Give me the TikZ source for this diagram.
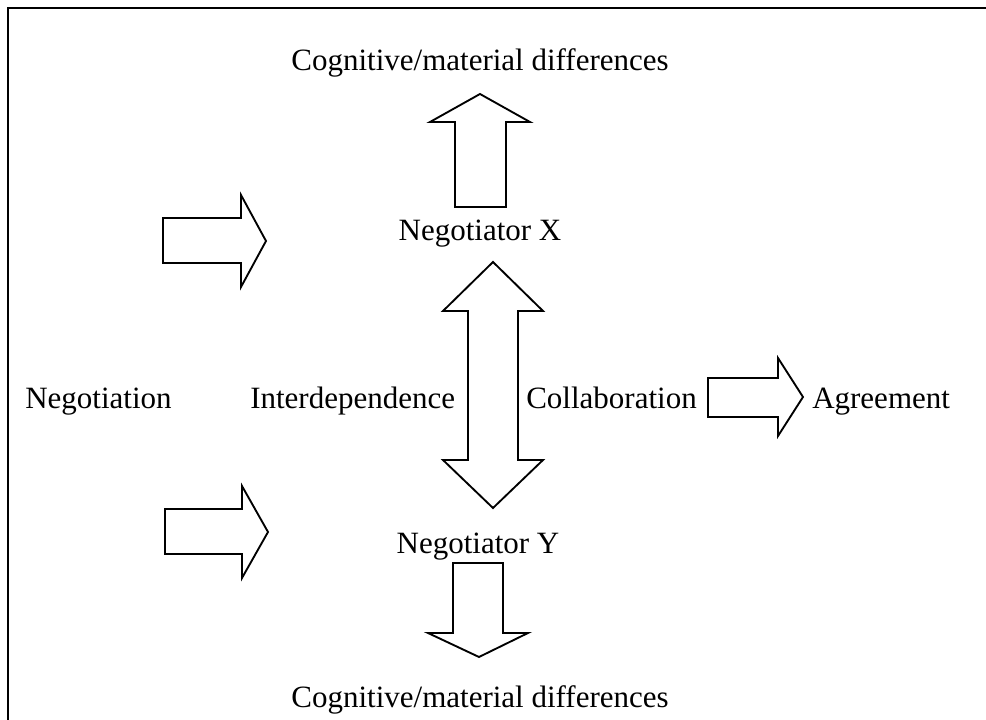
\documentclass[tikz,border=0pt]{standalone}
\usepackage{fontspec}
\setmainfont{Liberation Serif}
\usetikzlibrary{positioning}

\begin{document}
\begin{tikzpicture}[x=0.75pt, y=-0.75pt,
        lbl/.style={inner sep=0pt, font=\fontsize{23.25}{28}\selectfont},
        blockarrow/.style={draw, line width=1.4pt, line join=miter, fill=white},
        frameline/.style={draw, line width=1.5pt}]

        \useasboundingbox (0,0) rectangle (986,720);
        \draw[frameline] (8,720) -- (8,8) -- (986,8);

        % labels
        \node[lbl, anchor=base] (diffTop) at (480,71) {Cognitive/material differences};
        \node[lbl, anchor=base] (negX) at (480,241) {Negotiator X};
        \node[lbl, anchor=base] (negY) at (478,553) {Negotiator Y};
        \node[lbl, anchor=base] (diffBot) at (480,707) {Cognitive/material differences};
        \node[lbl, anchor=base west] (negotiation) at (25,408) {Negotiation};
        \node[lbl, anchor=base west] (interdep) at (250,408) {Interdependence};
        \node[lbl, anchor=base west] (collab) at (526,408) {Collaboration};
        \node[lbl, anchor=base west] (agree) at (812,408) {Agreement};

        % block arrows
        \draw[blockarrow] (163,218) -- (241,218) -- (241,195) -- (266,241) -- (241,287) -- (241,263) -- (163,263) -- cycle;
        \draw[blockarrow] (165,509) -- (242,509) -- (242,486) -- (268,532) -- (242,578) -- (242,554) -- (165,554) -- cycle;
        \draw[blockarrow] (455,207) -- (455,122) -- (430,122) -- (480,94) -- (530,122) -- (506,122) -- (506,207) -- cycle;
        \draw[blockarrow] (493,262) -- (543,311) -- (518,311) -- (518,460) -- (543,460) -- (493,508) -- (443,460) -- (468,460) -- (468,311) -- (443,311) -- cycle;
        \draw[blockarrow] (453,563) -- (503,563) -- (503,633) -- (528,633) -- (479,657) -- (428,633) -- (453,633) -- cycle;
        \draw[blockarrow] (708,378) -- (778,378) -- (778,358) -- (803,397) -- (778,436) -- (778,417) -- (708,417) -- cycle;

    \end{tikzpicture}
\end{document}
